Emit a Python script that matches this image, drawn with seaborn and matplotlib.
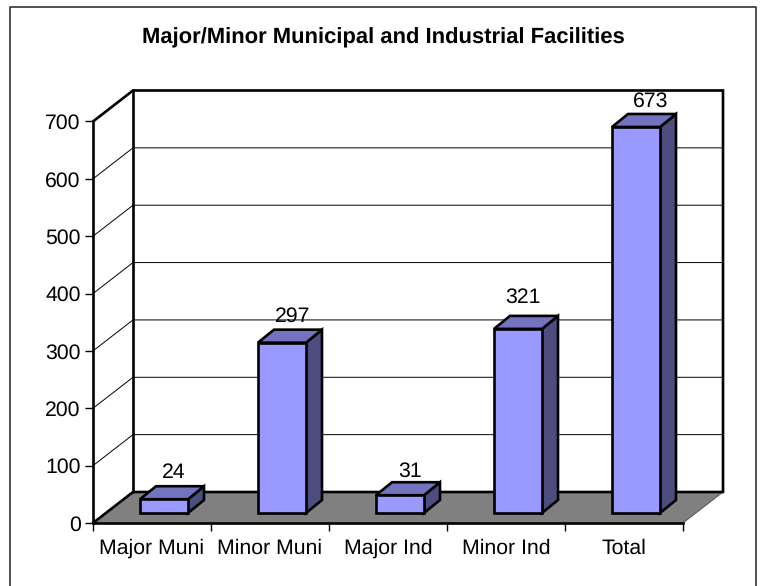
import matplotlib
matplotlib.use("Agg")
import matplotlib.pyplot as plt
from matplotlib.lines import Line2D
import seaborn as sns
import pandas as pd

categories = ["Major Muni", "Minor Muni", "Major Ind", "Minor Ind", "Total"]
values = [24, 297, 31, 321, 673]
y_ticks = [0, 100, 200, 300, 400, 500, 600, 700]

FIG_W, FIG_H = 762, 586
LEFT, RIGHT, TOP, BOTTOM = 93, 683, 121.5, 523
THICK = 1.9
FONT = 15.3

# one data unit in pixels, the 3d look is built from these
X_UNIT = (RIGHT - LEFT) / len(categories)
Y_UNIT = (BOTTOM - TOP) / max(y_ticks)


def px_x(p):
    return p / X_UNIT


def px_y(p):
    return p / Y_UNIT


WALL_X, WALL_Y = px_x(40), px_y(31)
BAR_X, BAR_Y = px_x(12), px_y(10)
SIDE_X, SIDE_Y = px_x(16), px_y(13)
BAR_W = px_x(48)
label_nudge_x = [10, 11, 10, 5, 15]
label_nudge_y = [27, 26, 24, 32, 26]

sns.set_theme(style="white")
plt.rcParams["font.family"] = ["Liberation Sans", "DejaVu Sans"]
plt.rcParams["text.hinting"] = "none"

fig = plt.figure(figsize=(FIG_W / 100, FIG_H / 100), dpi=100)
ax = fig.add_axes([LEFT / FIG_W, 1 - BOTTOM / FIG_H, (RIGHT - LEFT) / FIG_W, (BOTTOM - TOP) / FIG_H])

df = pd.DataFrame({"category": categories, "value": values})
sns.barplot(data=df, x="category", y="value", color="#9999FF", saturation=1, width=BAR_W,
            edgecolor="black", linewidth=THICK, ax=ax, zorder=4)
ax.set_xlim(-0.5, len(categories) - 0.5)
ax.set_ylim(0, max(y_ticks))
ax.patch.set_alpha(0)

x0, x1 = ax.get_xlim()

# floor
ax.fill([x0, x1, x1 + WALL_X, x0 + WALL_X], [0, 0, WALL_Y, WALL_Y], color="#808080", lw=0, zorder=1, clip_on=False)
ax.plot([x1, x1 + WALL_X], [0, WALL_Y], color="#555555", lw=0.7, zorder=1, clip_on=False)

# gridlines on the walls
for t in y_ticks[1:-1]:
    ax.plot([x0, x0 + WALL_X, x1 + WALL_X], [t, t + WALL_Y, t + WALL_Y], color="black", lw=0.7, zorder=1, clip_on=False)

# wall edges
ax.plot([x0, x0 + WALL_X, x1 + WALL_X, x1 + WALL_X], [y_ticks[-1], y_ticks[-1] + WALL_Y, y_ticks[-1] + WALL_Y, WALL_Y],
        color="black", lw=THICK, zorder=2, clip_on=False, solid_joinstyle="miter")
ax.plot([x0 + WALL_X, x0 + WALL_X], [WALL_Y, y_ticks[-1] + WALL_Y], color="black", lw=THICK, zorder=2, clip_on=False)
ax.plot([x0, x0 + WALL_X, x1 + WALL_X], [0, WALL_Y, WALL_Y], color="black", lw=THICK, zorder=2, clip_on=False)

# bars: move the fronts back off the floor edge, add side and top faces
for i, (bar, v) in enumerate(zip(ax.patches, values)):
    bar.set_x(bar.get_x() + BAR_X)
    bar.set_y(BAR_Y)
    bar.set_clip_on(False)
    l = bar.get_x()
    r = l + bar.get_width()
    b = BAR_Y
    t = BAR_Y + v
    ax.fill([r, r + SIDE_X, r + SIDE_X, r], [b, b + SIDE_Y, t + SIDE_Y, t], facecolor="#4D4D80",
            edgecolor="black", lw=THICK, zorder=3, clip_on=False, joinstyle="miter")
    ax.fill([l, r, r + SIDE_X, l + SIDE_X], [t, t, t + SIDE_Y, t + SIDE_Y], facecolor="#7373BF",
            edgecolor="black", lw=THICK, zorder=3, clip_on=False, joinstyle="miter")
    ax.text(i + px_x(label_nudge_x[i]) + BAR_X, t + px_y(label_nudge_y[i]), str(v), ha="center", va="center",
            fontsize=FONT, color="black", zorder=5)

# axes and ticks
sns.despine(ax=ax)
for side in ["left", "bottom"]:
    ax.spines[side].set_linewidth(THICK)
    ax.spines[side].set_color("black")
    ax.spines[side].set_zorder(2)

ax.set_xlabel("")
ax.set_ylabel("")
ax.set_yticks(y_ticks)
ax.set_xticks(range(len(categories)))
ax.set_xticklabels(categories)
ax.set_xticks([x0 + i for i in range(len(categories) + 1)], minor=True)
ax.tick_params(axis="x", which="major", length=0, pad=11, labelsize=FONT, labelcolor="black")
ax.tick_params(axis="x", which="minor", length=6, width=1, color="black", bottom=True)
ax.tick_params(axis="y", length=6, width=1, color="black", left=True, pad=3, labelsize=FONT, labelcolor="black")

fig.text(383.5 / FIG_W, 1 - 38 / FIG_H, "Major/Minor Municipal and Industrial Facilities", ha="center", va="center",
         fontsize=15.8, fontweight="bold", color="black")

# chart border, the bottom edge is cut off
border_x = [10 / FIG_W, 10 / FIG_W, 756 / FIG_W, 756 / FIG_W]
border_y = [0, 1 - 7 / FIG_H, 1 - 7 / FIG_H, 0]
fig.add_artist(Line2D(border_x, border_y, color="#222222", lw=1.1))

fig.savefig("out.png", dpi=100)
